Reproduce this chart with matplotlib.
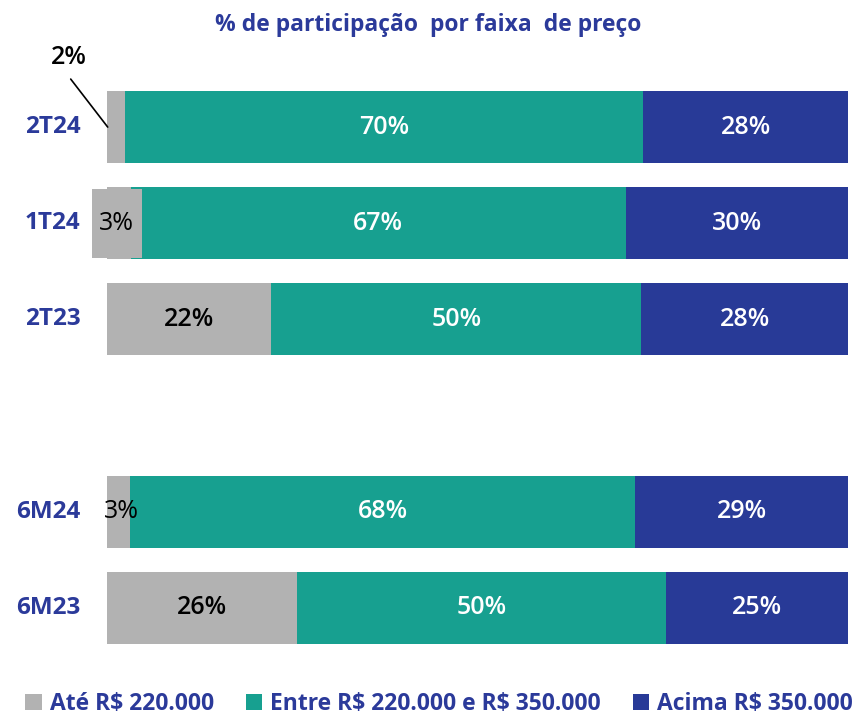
import matplotlib.pyplot as plt
import numpy as np
from matplotlib.patches import Patch

plt.rcParams['font.family'] = ['Open Sans', 'DejaVu Sans']
plt.rcParams['text.parse_math'] = False

periods = ['2T24', '1T24', '2T23', '6M24', '6M23']
ate_220 = [2.4, 3.2, 22.2, 3.1, 25.6]
entre_220_350 = [70.0, 66.8, 49.9, 68.2, 49.8]
acima_350 = [27.6, 30.0, 27.9, 28.7, 24.6]
series_names = ['Até R$ 220.000', 'Entre R$ 220.000 e R$ 350.000', 'Acima R$ 350.000']

ypos = [0, 1, 2, 4, 5]  # gap between quarters and semesters
gray = '#B2B2B2'
teal = '#17A090'
blue = '#283A97'
label_blue = '#2B3A9A'

fig = plt.figure(figsize=(8.64, 7.2), dpi=100)
ax = fig.add_axes([0.1238, 0.0889, 0.8577, 0.8014])

h = 0.75
left = np.zeros(len(periods))
for vals, color in zip([ate_220, entre_220_350, acima_350], [gray, teal, blue]):
    ax.barh(ypos, vals, left=left, height=h, color=color, edgecolor='none')
    left = left + np.array(vals)

ax.set_xlim(0, 100)
ax.set_ylim(5.5, -0.5)
ax.axis('off')

fs = 18
# category labels
for y, p in zip(ypos, periods):
    ax.text(-3.6, y, p, ha='right', va='center', fontsize=17.5, color=label_blue, fontweight='bold')

# value labels
for i, y in enumerate(ypos):
    a, e, c = ate_220[i], entre_220_350[i], acima_350[i]
    ax.text(a + e / 2, y, f'{round(e)}%', ha='center', va='center', fontsize=fs, color='white', fontweight='semibold')
    ax.text(a + e + c / 2, y, f'{round(c)}%', ha='center', va='center', fontsize=fs, color='white', fontweight='semibold')
    if a > 10:
        ax.text(a / 2, y, f'{round(a)}%', ha='center', va='center', fontsize=fs, color='black', fontweight='semibold')

# small gray shares: leader line + label for 2T24
ax.annotate('', xy=(0.1, 0.0), xytext=(-37, 48), textcoords='offset pixels',
            arrowprops=dict(arrowstyle='-', color='black', lw=1.2, shrinkA=0, shrinkB=0),
            annotation_clip=False)
ax.annotate(f'{round(ate_220[0])}%', xy=(0.1, 0.0), xytext=(-39, 70), textcoords='offset pixels',
            ha='center', va='center', fontsize=fs, color='black', fontweight='semibold',
            annotation_clip=False)
ax.text(1.3, 1.0, f'\n{round(ate_220[1])}%\n', ha='center', va='center', fontsize=fs, color='black',
        linespacing=0.45,
        bbox=dict(facecolor=gray, edgecolor='none', boxstyle='square,pad=0.3'))
ax.text(1.9, 4, f'{round(ate_220[3])}%', ha='center', va='center', fontsize=fs, color='black')

fig.text(0.496, 0.965, '% de participação  por faixa  de preço', ha='center', va='center',
         fontsize=16.5, color=label_blue, fontweight='bold')

handles = [Patch(facecolor=c, edgecolor='none') for c in [gray, teal, blue]]
leg = fig.legend(handles, series_names, loc='center', bbox_to_anchor=(0.508, 0.022), ncol=3,
                 frameon=False, fontsize=16.5, handlelength=0.7, handleheight=0.7,
                 handletextpad=0.35, columnspacing=1.4)
for t in leg.get_texts():
    t.set_color(label_blue)
    t.set_fontweight('bold')

fig.savefig('out.png', dpi=100)
